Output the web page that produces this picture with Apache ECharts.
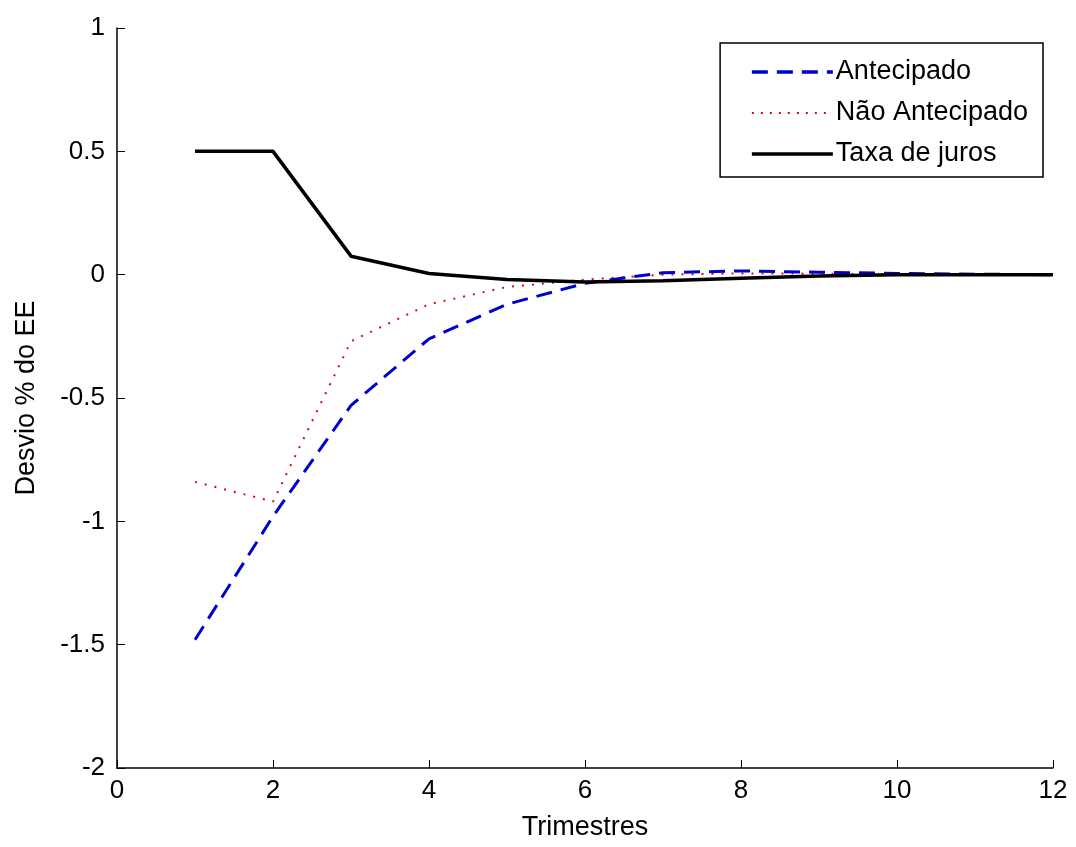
<!DOCTYPE html>
<html><head><meta charset="utf-8">
<script src="https://cdn.jsdelivr.net/npm/echarts@6/dist/echarts.min.js"></script>
<style>html,body{margin:0;padding:0;background:#fff}#c{width:1076px;height:847px}</style>
</head><body><div id="c"></div>
<script>
const quarters = [1,2,3,4,5,6,7,8,9,10,11,12];
const antecipado = [-1.48,-0.98,-0.53,-0.26,-0.12,-0.035,0.008,0.015,0.01,0.005,0.002,0.0];
const naoAntecipado = [-0.84,-0.92,-0.27,-0.12,-0.05,-0.02,0.0,0.005,0.004,0.002,0.001,0.0];
const taxaJuros = [0.5,0.5,0.075,0.005,-0.02,-0.03,-0.025,-0.015,-0.005,0.0,0.0,0.0];
const seriesNames = ['Antecipado','Não Antecipado','Taxa de juros'];
const xTitle = 'Trimestres';
const yTitle = 'Desvio % do EE';

const pair = arr => quarters.map((q,i)=>[q,arr[i]]);
const font = 'Liberation Sans';
const colors = ['#0000cc','#d01010','#000'];
const chart = echarts.init(document.getElementById('c'));
chart.setOption({
  animation:false,
  backgroundColor:'#fff',
  grid:{left:117,right:23,top:28,bottom:79,containLabel:false},
  legend:{
    right:33, top:43, orient:'vertical',
    backgroundColor:'#fff', borderColor:'#000', borderWidth:1.5,
    padding:[15,15,9,30], itemGap:13, itemWidth:81, itemHeight:14,
    itemStyle:{opacity:0},
    textStyle:{fontFamily:font,fontSize:27,lineHeight:28,color:'#000',padding:[0,0,0,-2]},
    data:[
      {name:seriesNames[0],lineStyle:{width:3.5,type:[16,9],color:colors[0]}},
      {name:seriesNames[1],lineStyle:{width:2,type:[2,7],color:colors[1]}},
      {name:seriesNames[2],lineStyle:{width:3.5,type:'solid',color:colors[2]}}
    ]
  },
  xAxis:{
    type:'value', min:0, max:12, interval:2,
    name:xTitle, nameLocation:'middle', nameGap:46,
    nameTextStyle:{fontFamily:font,fontSize:27,color:'#000'},
    axisLine:{onZero:false,lineStyle:{color:'#000',width:1.5}},
    axisTick:{inside:true,length:8,lineStyle:{color:'#000'}},
    axisLabel:{fontFamily:font,fontSize:26,color:'#000',margin:10},
    splitLine:{show:false}
  },
  yAxis:{
    type:'value', min:-2, max:1, interval:0.5,
    name:yTitle, nameLocation:'middle', nameGap:77, nameRotate:90,
    nameTextStyle:{fontFamily:font,fontSize:27,color:'#000'},
    axisLine:{onZero:false,lineStyle:{color:'#000',width:1.5}},
    axisTick:{inside:true,length:8,lineStyle:{color:'#000'}},
    axisLabel:{fontFamily:font,fontSize:26,color:'#000',margin:12},
    splitLine:{show:false}
  },
  series:[
    {name:seriesNames[0],type:'line',data:pair(antecipado),symbol:'none',
     lineStyle:{color:colors[0],width:3,type:[16,9]},itemStyle:{color:colors[0]},z:3},
    {name:seriesNames[1],type:'line',data:pair(naoAntecipado),symbol:'none',
     lineStyle:{color:colors[1],width:2,type:[2,8]},itemStyle:{color:colors[1]},z:2},
    {name:seriesNames[2],type:'line',data:pair(taxaJuros),symbol:'none',
     lineStyle:{color:colors[2],width:3.5},itemStyle:{color:colors[2]},z:4}
  ]
});
</script></body></html>
